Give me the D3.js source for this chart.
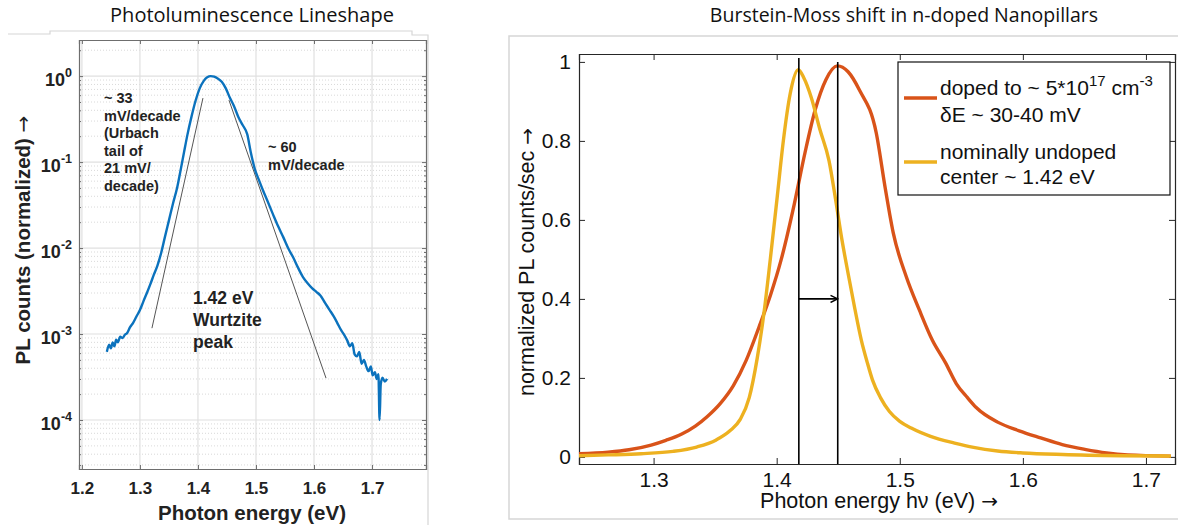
<!DOCTYPE html>
<html><head><meta charset="utf-8">
<script src="https://cdn.jsdelivr.net/npm/d3@7"></script>
<style>
html,body{margin:0;padding:0;background:#fff;}
svg{display:block;}
.bold{font-family:"Liberation Sans",Arial,sans-serif;font-weight:bold;}
.reg{font-family:"Liberation Sans",Arial,sans-serif;}
.title{font-family:"Open Sans",sans-serif;}
.arrow{font-family:"DejaVu Sans",sans-serif;font-weight:normal;}
</style></head>
<body>
<svg id="chart" width="1178" height="525"></svg>
<script>
// ---------------- Left panel data ----------------
const leftTitle = "Photoluminescence Lineshape";
const leftXLabel = "Photon energy (eV)";
const leftYLabel = "PL counts (normalized) ";
const leftXTicks = [1.2, 1.3, 1.4, 1.5, 1.6, 1.7];
const leftYExponents = [0, -1, -2, -3, -4];
const plEnergy = [1.243,1.247,1.250,1.253,1.256,1.259,1.262,1.266,1.270,1.274,1.278,1.283,1.288,1.294,1.300,1.306,1.312,1.318,1.324,1.330,1.337,1.343,1.350,1.357,1.364,1.370,1.376,1.382,1.389,1.396,1.403,1.410,1.416,1.422,1.428,1.434,1.441,1.448,1.455,1.462,1.470,1.477,1.485,1.491,1.498,1.505,1.512,1.520,1.529,1.538,1.547,1.556,1.564,1.572,1.581,1.589,1.597,1.604,1.611,1.619,1.627,1.634,1.640,1.647,1.652,1.657,1.662,1.666,1.670,1.674,1.678,1.682,1.686,1.690,1.694,1.698,1.701,1.705,1.708,1.711,1.713,1.715,1.718,1.722,1.726];
const plCounts = [6.2e-4,7.5e-4,6.8e-4,8.0e-4,7.2e-4,8.6e-4,8.0e-4,9.3e-4,9.0e-4,9.8e-4,1.03e-3,1.2e-3,1.34e-3,1.6e-3,1.9e-3,2.4e-3,3.0e-3,3.8e-3,4.9e-3,6.2e-3,9.0e-3,1.34e-2,2.1e-2,3.3e-2,5.0e-2,8.0e-2,0.13,0.21,0.34,0.52,0.72,0.88,0.97,1.0,0.985,0.94,0.86,0.72,0.56,0.45,0.33,0.27,0.21,0.13,0.083,0.062,0.047,0.035,0.025,0.018,0.0134,0.0098,0.0078,0.006,0.0046,0.0039,0.0034,0.0031,0.0028,0.0023,0.0019,0.0016,0.00135,0.0011,0.00098,0.00085,0.00072,0.00078,0.00058,0.00055,0.00062,0.00045,0.0005,0.00042,0.00037,0.00042,0.00033,0.00036,0.0003,0.00034,0.0001,0.00026,0.00031,0.00028,0.0003];
const tangentLeftE = [1.3207, 1.4086];
const tangentLeftC = [1.17e-3, 0.555];
const tangentRightE = [1.4534, 1.6207];
const tangentRightC = [0.526, 3.07e-4];
const noteLeft = ["~ 33", "mV/decade", "(Urbach", "tail of", "21 mV/", "decade)"];
const noteRight = ["~ 60", "mV/decade"];
const notePeak = ["1.42 eV", "Wurtzite", "peak"];

// ---------------- Right panel data ----------------
const rightTitle = "Burstein-Moss shift in n-doped Nanopillars";
const rightXLabel = "Photon energy h\u03BD (eV) ";
const rightYLabel = "normalized PL counts/sec ";
const rightXTicks = [1.3, 1.4, 1.5, 1.6, 1.7];
const rightYTicks = [0, 0.2, 0.4, 0.6, 0.8, 1];
const dopedE  = [1.2394,1.263,1.28,1.298,1.31,1.3229,1.3339,1.3439,1.3541,1.3647,1.3753,1.3858,1.395,1.4037,1.4143,1.423,1.4314,1.440,1.4492,1.458,1.467,1.4809,1.4882,1.4947,1.5053,1.5159,1.5264,1.5372,1.546,1.555,1.5621,1.5795,1.597,1.6145,1.632,1.6503,1.668,1.6853,1.7203];
const dopedPL = [0.008,0.012,0.018,0.03,0.042,0.058,0.078,0.103,0.135,0.18,0.245,0.33,0.41,0.50,0.64,0.77,0.88,0.955,0.99,0.975,0.93,0.82,0.68,0.567,0.456,0.372,0.296,0.238,0.185,0.15,0.125,0.088,0.066,0.048,0.031,0.019,0.01,0.005,0.002];
const undopedE  = [1.2394,1.263,1.29,1.3158,1.335,1.3509,1.362,1.3704,1.3777,1.3842,1.3899,1.3948,1.4005,1.4054,1.411,1.4175,1.422,1.4281,1.435,1.4425,1.4477,1.453,1.4583,1.4635,1.4688,1.4735,1.4778,1.4843,1.4916,1.50,1.5093,1.525,1.5445,1.56,1.5795,1.60,1.6324,1.68,1.7203];
const undopedPL = [0.003,0.005,0.008,0.014,0.025,0.043,0.066,0.095,0.15,0.25,0.37,0.50,0.66,0.80,0.92,0.98,0.96,0.91,0.83,0.75,0.655,0.55,0.46,0.375,0.295,0.24,0.195,0.15,0.115,0.09,0.073,0.052,0.035,0.024,0.015,0.01,0.006,0.003,0.002];
const peakLinesE = [1.418, 1.4496];
const peakLinesTop = [1.01, 1.0];
const arrowLevel = 0.4;
const legendNames = ["doped", "undoped"];

const svg = d3.select("#chart");
const defs = svg.append("defs");
defs.append("marker").attr("id","arr").attr("viewBox","0 0 10 10").attr("refX",9).attr("refY",5)
  .attr("markerWidth",9).attr("markerHeight",9).attr("markerUnits","userSpaceOnUse").attr("orient","auto")
  .append("path").attr("d","M1,1 L9,5 L1,9").attr("fill","none").attr("stroke","#000").attr("stroke-width",1.6);

// ================= LEFT PANEL =================
const xL = d3.scaleLinear().domain([1.195, 1.793]).range([79, 426]);
const yL = d3.scaleLog().domain([Math.pow(10,-4.57), Math.pow(10,0.42)]).range([469, 40]);
const L = svg.append("g");

L.append("path").attr("d","M8,34 H50 V31 H412 V35 H428 V525").attr("fill","none").attr("stroke","#d6d6d6").attr("stroke-width",1.2);

L.append("text").attr("class","title").attr("x",252).attr("y",22).attr("text-anchor","middle")
  .attr("font-size",20).attr("fill","#111").text(leftTitle);

const minorY = [];
for (let e = -5; e <= 0; e++) for (let m = 2; m <= 9; m++) {
  const v = m * Math.pow(10, e);
  if (v > yL.domain()[0] && v < yL.domain()[1]) minorY.push(v);
}
L.selectAll(".mgy").data(minorY).join("line")
  .attr("x1",xL.range()[0]).attr("x2",xL.range()[1]).attr("y1",d=>yL(d)).attr("y2",d=>yL(d))
  .attr("stroke","#cfcfcf").attr("stroke-width",0.8).attr("stroke-dasharray","1,2");
const majorY = leftYExponents.map(e=>Math.pow(10,e));
L.selectAll(".gy").data(majorY).join("line")
  .attr("x1",xL.range()[0]).attr("x2",xL.range()[1]).attr("y1",d=>yL(d)).attr("y2",d=>yL(d))
  .attr("stroke","#e0e0e0").attr("stroke-width",1.2);
L.selectAll(".gx").data(leftXTicks).join("line")
  .attr("x1",d=>xL(d)).attr("x2",d=>xL(d)).attr("y1",yL.range()[0]).attr("y2",yL.range()[1])
  .attr("stroke","#e0e0e0").attr("stroke-width",1.2);

const axCol = "#6e6e6e";
const gxb = L.append("g").attr("transform",`translate(0,${yL.range()[0]})`)
  .call(d3.axisBottom(xL).tickValues(leftXTicks).tickSize(-4).tickFormat(d3.format(".1f")).tickPadding(13));
const gxt = L.append("g").attr("transform",`translate(0,${yL.range()[1]})`)
  .call(d3.axisTop(xL).tickValues(leftXTicks).tickSize(-4).tickFormat(""));
const gyl = L.append("g").attr("transform",`translate(${xL.range()[0]},0)`)
  .call(d3.axisLeft(yL).tickValues(majorY).tickSize(-4).tickFormat(""));
const gyr = L.append("g").attr("transform",`translate(${xL.range()[1]},0)`)
  .call(d3.axisRight(yL).tickValues(majorY).tickSize(-4).tickFormat(""));
const gylm = L.append("g").attr("transform",`translate(${xL.range()[0]},0)`)
  .call(d3.axisLeft(yL).tickValues(minorY).tickSize(-2).tickFormat(""));
const gyrm = L.append("g").attr("transform",`translate(${xL.range()[1]},0)`)
  .call(d3.axisRight(yL).tickValues(minorY).tickSize(-2).tickFormat(""));
[gxb,gxt,gyl,gyr,gylm,gyrm].forEach(g=>{
  g.select(".domain").attr("stroke",axCol).attr("stroke-width",1.2);
  g.selectAll(".tick line").attr("stroke",axCol);
});
[gylm,gyrm].forEach(g=>g.select(".domain").remove());
gxb.selectAll(".tick text").attr("class","bold").attr("font-size",17).attr("fill","#222");

L.selectAll(".ylab").data(leftYExponents).join("text")
  .attr("class","bold").attr("text-anchor","end").attr("x",72).attr("y",e=>yL(Math.pow(10,e))+10)
  .attr("font-size",18).attr("fill","#222")
  .each(function(e){
    const t = d3.select(this);
    t.append("tspan").text("10");
    t.append("tspan").attr("dy",-9).attr("font-size",12.5).text(String(e));
  });

L.append("text").attr("class","bold").attr("x",252).attr("y",520).attr("text-anchor","middle")
  .attr("font-size",20.5).attr("fill","#222").text(leftXLabel);
const yl = L.append("text").attr("class","bold").attr("transform","translate(30,240) rotate(-90)").attr("text-anchor","middle")
  .attr("font-size",20.5).attr("fill","#222");
yl.append("tspan").text(leftYLabel);
yl.append("tspan").attr("class","arrow").attr("font-size",20).text("\u2192");

const lineL = d3.line().x(d=>xL(d[0])).y(d=>yL(d[1]));
L.append("path").attr("d",lineL(d3.zip(tangentLeftE,tangentLeftC))).attr("stroke","#555").attr("stroke-width",1).attr("fill","none");
L.append("path").attr("d",lineL(d3.zip(tangentRightE,tangentRightC))).attr("stroke","#555").attr("stroke-width",1).attr("fill","none");

L.append("path").attr("d",d3.line().x(d=>xL(d[0])).y(d=>yL(d[1])).curve(d3.curveMonotoneX)(d3.zip(plEnergy,plCounts)))
  .attr("fill","none").attr("stroke","#0b72bd").attr("stroke-width",2.4);

function block(lines, x, y0, dy, fs){
  L.selectAll(null).data(lines).join("text").attr("class","bold").attr("x",x).attr("y",(d,i)=>y0+i*dy)
    .attr("font-size",fs).attr("fill","#222").text(d=>d);
}
block(noteLeft, 104, 103, 17.6, 14.5);
block(noteRight, 268, 152, 17.6, 14.5);
block(notePeak, 193, 304, 22, 17.5);

// ================= RIGHT PANEL =================
const xR = d3.scaleLinear().domain([1.2394, 1.7236]).range([579, 1175]);
const yR = d3.scaleLinear().domain([-0.018, 1.02]).range([464, 54]);
const R = svg.append("g");
R.append("path").attr("d","M1178,36 H509 V519 H1178").attr("fill","none").attr("stroke","#d6d6d6").attr("stroke-width",1.5);
R.append("text").attr("class","title").attr("x",904).attr("y",22).attr("text-anchor","middle")
  .attr("font-size",19.5).attr("fill","#111").text(rightTitle);

const rAx = [
  R.append("g").attr("transform",`translate(0,${yR.range()[0]})`).call(d3.axisBottom(xR).tickValues(rightXTicks).tickSize(-6).tickPadding(8).tickFormat(d3.format(".1f"))),
  R.append("g").attr("transform",`translate(0,${yR.range()[1]})`).call(d3.axisTop(xR).tickValues(rightXTicks).tickSize(-6).tickFormat("")),
  R.append("g").attr("transform",`translate(${xR.range()[0]},0)`).call(d3.axisLeft(yR).tickValues(rightYTicks).tickSize(-6).tickPadding(8).tickFormat(d=>d===0||d===1?String(d):d3.format(".1f")(d))),
  R.append("g").attr("transform",`translate(${xR.range()[1]},0)`).call(d3.axisRight(yR).tickValues(rightYTicks).tickSize(-6).tickFormat(""))
];
rAx.forEach(g=>{
  g.select(".domain").attr("stroke","#262626").attr("stroke-width",1.2);
  g.selectAll(".tick line").attr("stroke","#262626");
  g.selectAll(".tick text").attr("class","reg").attr("font-size",21).attr("fill","#111");
});

const xl = R.append("text").attr("class","reg").attr("x",879).attr("y",508).attr("text-anchor","middle")
  .attr("font-size",21.5).attr("fill","#111");
xl.append("tspan").text(rightXLabel);
xl.append("tspan").attr("class","arrow").attr("font-size",20).text("\u2192");
const ylr = R.append("text").attr("class","reg").attr("transform","translate(534,262) rotate(-90)").attr("text-anchor","middle")
  .attr("font-size",21.5).attr("fill","#111");
ylr.append("tspan").text(rightYLabel);
ylr.append("tspan").attr("class","arrow").attr("font-size",20).text("\u2192");

const colors = {doped:"#d95319", undoped:"#edb120"};
const lineR = d3.line().x(d=>xR(d[0])).y(d=>yR(d[1])).curve(d3.curveMonotoneX);
R.append("path").attr("d",lineR(d3.zip(dopedE,dopedPL))).attr("fill","none").attr("stroke",colors.doped).attr("stroke-width",3.4);
R.append("path").attr("d",lineR(d3.zip(undopedE,undopedPL))).attr("fill","none").attr("stroke",colors.undoped).attr("stroke-width",3.4);

R.selectAll(".pk").data(d3.zip(peakLinesE,peakLinesTop)).join("line")
  .attr("x1",d=>xR(d[0])).attr("x2",d=>xR(d[0])).attr("y1",d=>yR(d[1])).attr("y2",yR.range()[0])
  .attr("stroke","#000").attr("stroke-width",1.6);
R.append("line").attr("x1",xR(peakLinesE[0])).attr("x2",xR(peakLinesE[1])).attr("y1",yR(arrowLevel)).attr("y2",yR(arrowLevel))
  .attr("stroke","#000").attr("stroke-width",1.6).attr("marker-end","url(#arr)");

const lg = R.append("g");
lg.append("rect").attr("x",898).attr("y",62).attr("width",272).attr("height",133).attr("fill","#fff").attr("stroke","#111").attr("stroke-width",1.2);
const legY = [98, 162];
legendNames.forEach((n,i)=>{
  lg.append("line").attr("x1",904).attr("x2",937).attr("y1",legY[i]).attr("y2",legY[i]).attr("stroke",colors[n]).attr("stroke-width",3.4);
});
const t1 = lg.append("text").attr("class","reg").attr("x",940).attr("y",95).attr("font-size",21).attr("fill","#111");
t1.append("tspan").text("doped to ~ 5*10");
t1.append("tspan").attr("dy",-9).attr("font-size",15).text("17");
t1.append("tspan").attr("dy",9).text(" cm");
t1.append("tspan").attr("dy",-9).attr("font-size",15).text("-3");
lg.append("text").attr("class","reg").attr("x",940).attr("y",122).attr("font-size",21).attr("fill","#111").text("\u03B4E ~ 30-40 mV");
lg.append("text").attr("class","reg").attr("x",940).attr("y",159).attr("font-size",21).attr("fill","#111").text("nominally undoped");
lg.append("text").attr("class","reg").attr("x",940).attr("y",184).attr("font-size",21).attr("fill","#111").text("center ~ 1.42 eV");
</script>
</body></html>
